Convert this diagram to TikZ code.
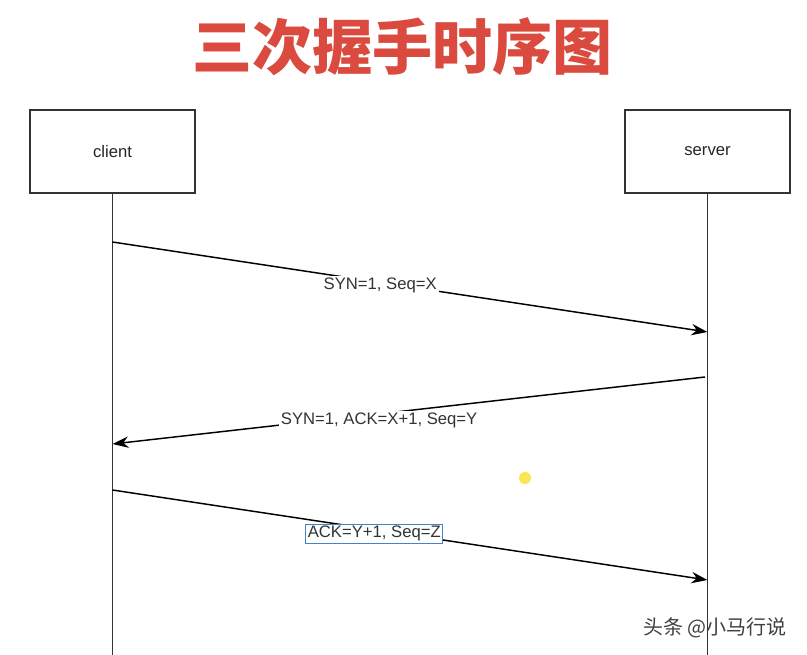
\documentclass[tikz,border=0pt]{standalone}
\usepackage{fontspec}
\setmainfont{Liberation Sans}
\newfontfamily\cjk{Noto Sans CJK SC}
\usetikzlibrary{arrows.meta}
\definecolor{titlered}{RGB}{218,74,62}
\definecolor{selblue}{RGB}{70,130,200}
\definecolor{dotyellow}{RGB}{250,230,80}

\begin{document}
\begin{tikzpicture}[x=0.75pt,y=-0.75pt,
	actor/.style={draw=black!80,line width=0.8pt,minimum width=123.75pt,minimum height=62.25pt,font=\fontsize{12.5}{15}\selectfont,text=black!85},
	lifeline/.style={draw=black!80,line width=1.2pt},
	msg/.style={draw=black,line width=1.1pt,-{Stealth[length=12pt,width=8.5pt]}},
	msglabel/.style={fill=white,inner sep=1.5pt,text=black!80,font=\fontsize{12.5}{15}\selectfont}]
	\fill[white] (0,0) rectangle (807,655);
	\useasboundingbox (0,0) rectangle (807,655);

	\node[font=\cjk\bfseries\fontsize{45}{50}\selectfont,text=titlered] (title) at (402,47) {三次握手时序图};

	\node[actor] (client) at (112.5,151.5) {client};
	\node[actor] (server) at (707.5,151.5) {server};
	\coordinate (clientend) at (112.5,655);
	\coordinate (serverend) at (707.5,655);
	\draw[lifeline] (client.south) -- (clientend);
	\draw[lifeline] (server.south) -- (serverend);

	% handshake messages
	\coordinate (c1) at (112.5,242);
	\coordinate (s1) at (707.5,332);
	\coordinate (s2) at (705,377);
	\coordinate (c2) at (112.5,444);
	\coordinate (c3) at (112.5,490);
	\coordinate (s3) at (707.5,580);
	\draw[msg] (c1) -- node[msglabel,pos=0.45,yshift=-2pt] (syn) {SYN=1, Seq=X} (s1);
	\draw[msg] (s2) -- node[msglabel,pos=0.55,yshift=-5pt] (synack) {SYN=1, ACK=X+1, Seq=Y} (c2);
	\draw[msg] (c3) -- node[msglabel,pos=0.44,yshift=-3pt,draw=selblue,line width=0.8pt,inner sep=1.5pt] (ack) {ACK=Y+1, Seq=Z} (s3);

	\fill[dotyellow] (525,478) circle (4.5pt);
	\node[font=\cjk\fontsize{15}{18}\selectfont,text=black!75] (mark) at (715,628) {头条 @小马行说};
\end{tikzpicture}
\end{document}
